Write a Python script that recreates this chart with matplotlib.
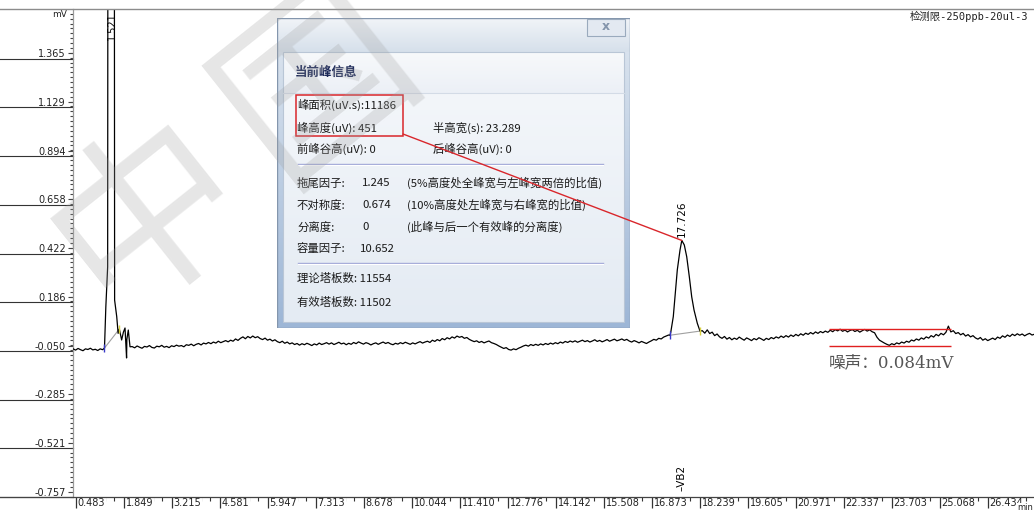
import numpy as np
import matplotlib
matplotlib.use('Agg')
import matplotlib.pyplot as plt
import matplotlib.ticker as ticker
import matplotlib.colors as mcolors
import matplotlib.transforms as mtransforms
from matplotlib.patches import Rectangle, ConnectionPatch
from matplotlib.lines import Line2D

plt.rcParams['font.family'] = ['DejaVu Sans', 'Noto Sans CJK SC']
CJK = ['Noto Sans CJK SC', 'DejaVu Sans']

W, H = 1034, 515

# axis ticks printed by the workstation
x_ticks = [0.483, 1.849, 3.215, 4.581, 5.947, 7.313, 8.678, 10.044, 11.410, 12.776,
           14.142, 15.508, 16.873, 18.239, 19.605, 20.971, 22.337, 23.703, 25.068, 26.434]
y_ticks = [-0.757, -0.521, -0.285, -0.050, 0.186, 0.422, 0.658, 0.894, 1.129, 1.365]

DT = 0.07  # min between stored baseline points

# baseline before the void peak, from 0.41 min
seg_a = [-0.066, -0.072, -0.064, -0.070, -0.075, -0.066, -0.069, -0.063, -0.071, -0.068,
         -0.074, -0.066, -0.070]

# void peak at 1.521 min (goes off scale)
peak1_rt = 1.521
p1_t = [1.302, 1.340, 1.392, 1.398, 1.521, 1.583, 1.590, 1.650, 1.690, 1.724, 1.790,
        1.840, 1.886, 1.930, 1.938, 1.979, 2.028]
p1_v = [-0.062, 0.137, 0.331, 1.950, 4.200, 1.950, 0.170, 0.090, 0.009, 0.030, -0.023,
        0.015, 0.035, -0.110, -0.020, 0.025, -0.056]

# baseline between the peaks, from 2.09 min
seg_b = [-0.055, -0.061, -0.052, -0.058, -0.063, -0.054, -0.057, -0.050, -0.059, -0.062,
         -0.053, -0.056, -0.049, -0.058, -0.054, -0.060, -0.051, -0.055, -0.048, -0.053,
         -0.050, -0.056, -0.046, -0.049, -0.043, -0.051, -0.044, -0.040, -0.047, -0.038,
         -0.042, -0.035, -0.041, -0.033, -0.038, -0.029, -0.036, -0.031, -0.026, -0.032,
         -0.024, -0.029, -0.018, -0.025, -0.015, -0.008, -0.017, -0.006, -0.013, -0.004,
         -0.012, -0.007, -0.016, -0.021, -0.014, -0.024, -0.019, -0.028, -0.022, -0.031,
         -0.036, -0.029, -0.039, -0.033, -0.042, -0.037, -0.045, -0.040, -0.048, -0.041,
         -0.046, -0.039, -0.044, -0.050, -0.042, -0.047, -0.038, -0.045, -0.041, -0.036,
         -0.043, -0.037, -0.045, -0.040, -0.034, -0.042, -0.038, -0.046, -0.039, -0.044,
         -0.035, -0.041, -0.032, -0.038, -0.043, -0.036, -0.040, -0.047, -0.041, -0.037,
         -0.044, -0.038, -0.033, -0.040, -0.035, -0.042, -0.046, -0.039, -0.043, -0.036,
         -0.041, -0.034, -0.039, -0.044, -0.037, -0.042, -0.036, -0.031, -0.038, -0.033,
         -0.029, -0.035, -0.024, -0.030, -0.021, -0.027, -0.016, -0.022, -0.012, -0.018,
         -0.008, -0.014, -0.004, -0.010, -0.006, -0.015, -0.011, -0.020, -0.026, -0.031,
         -0.027, -0.035, -0.030, -0.037, -0.032, -0.028, -0.036, -0.040, -0.045, -0.052,
         -0.058, -0.064, -0.060, -0.069, -0.072, -0.066, -0.070, -0.063, -0.058, -0.052,
         -0.048, -0.053, -0.045, -0.050, -0.044, -0.049, -0.042, -0.047, -0.040, -0.045,
         -0.038, -0.043, -0.036, -0.041, -0.033, -0.038, -0.030, -0.035, -0.028, -0.033,
         -0.027, -0.034, -0.029, -0.024, -0.031, -0.026, -0.033, -0.028, -0.022, -0.030,
         -0.025, -0.032, -0.027, -0.021, -0.029, -0.024, -0.019, -0.027, -0.023, -0.018,
         -0.025, -0.020, -0.028, -0.033, -0.026, -0.031, -0.037, -0.030, -0.035, -0.040,
         -0.033, -0.027, -0.020, -0.024, -0.015, -0.018, -0.009, -0.004, 0.001]

# VB2 peak
peak2_rt = 17.726
peak2_height = 451  # uV, from the peak report
p2_left_t = [17.390, 17.410, 17.484, 17.533, 17.598, 17.675]
p2_left_v = [0.000, 0.012, 0.090, 0.186, 0.316, 0.412]
p2_right_t = [17.797, 17.866, 17.940, 18.008, 18.074, 18.167, 18.244]
p2_right_v = [0.437, 0.380, 0.283, 0.186, 0.122, 0.058, 0.020]

# baseline after VB2, from 18.31 min
seg_c = [0.022, 0.010, 0.026, 0.008, 0.015, -0.002, 0.006, -0.008, -0.015, -0.006,
         -0.019, -0.011, -0.022, -0.014, -0.020, -0.009, -0.017, -0.024, -0.013, -0.019,
         -0.026, -0.016, -0.022, -0.012, -0.018, -0.025, -0.015, -0.021, -0.011, -0.017,
         -0.008, -0.014, -0.004, -0.011, -0.002, -0.009, 0.001, -0.006, 0.004, -0.003,
         0.007, 0.000, 0.010, 0.004, 0.013, 0.006, 0.016, 0.009, 0.018, 0.012,
         0.020, 0.014, 0.024, 0.017, 0.027, 0.021, 0.029, 0.019, 0.025, 0.016,
         0.023, 0.027, 0.018, 0.024, 0.015, 0.022, 0.028, 0.020, 0.026, 0.017,
         0.012, -0.010, -0.024, -0.031, -0.038, -0.044, -0.049, -0.041, -0.046, -0.037,
         -0.042, -0.033, -0.038, -0.029, -0.034, -0.023, -0.028, -0.018, -0.024, -0.013,
         -0.019, -0.008, -0.014, -0.002, -0.009, 0.004, -0.003, 0.009, 0.002, 0.014,
         0.044, 0.016, 0.022, 0.008, 0.013, 0.002, 0.009, -0.004, 0.003, -0.008,
         -0.002, -0.013, -0.019, -0.011, -0.024, -0.017, -0.026, -0.020, -0.014, -0.021,
         -0.009, -0.015, -0.003, -0.010, 0.001, -0.006, 0.005, -0.002, 0.007, 0.000,
         0.006, -0.003, 0.004, 0.009, 0.001, 0.005]

# noise measurement window
noise_t = (21.914, 25.385)
noise_top = 0.030
noise_mv = 0.084

# apex of VB2 sits peak2_height above its drawn baseline
p2_base_t = [p2_left_t[0], p2_right_t[-1]]
p2_base_v = [p2_left_v[0], p2_right_v[-1]]
p2_apex = np.interp(peak2_rt, p2_base_t, p2_base_v) + peak2_height / 1000.0

t = np.concatenate([0.41 + DT * np.arange(len(seg_a)), p1_t,
                    2.09 + DT * np.arange(len(seg_b)),
                    p2_left_t, [peak2_rt], p2_right_t,
                    18.31 + DT * np.arange(len(seg_c))])
v = np.concatenate([seg_a, p1_v, seg_b, p2_left_v, [p2_apex], p2_right_v, seg_c])

fig = plt.figure(figsize=(W / 100, H / 100), dpi=100)
fig.patch.set_facecolor('white')

ax = fig.add_axes([73 / W, (H - 497) / H, (W - 73) / W, (497 - 9) / H])
ax.set_xlim(0.406, 27.746)
ax.set_ylim(-0.783, 1.579)
for s in ['top', 'right', 'bottom']:
    ax.spines[s].set_visible(False)
ax.spines['left'].set_color('#9a9a9a')
ax.spines['left'].set_linewidth(0.9)
ax.tick_params(axis='x', which='both', bottom=False, labelbottom=False)
ax.set_yticks(y_ticks, labels=[f'{y:.3f}' for y in y_ticks])
ax.yaxis.set_minor_locator(ticker.AutoMinorLocator(10))
ax.tick_params(axis='y', which='major', length=3.8, width=0.8, color='#444444',
               labelsize=7, pad=1.5, labelcolor='#222222')
ax.tick_params(axis='y', which='minor', length=2.3, width=0.8, color='#444444')

# row rules under each y label
blend = mtransforms.blended_transform_factory(ax.transAxes, ax.transData)
for y in y_ticks:
    ax.plot([-73 / (W - 73), 0], [y - 0.0266] * 2, transform=blend, color='#333333',
            lw=0.8, clip_on=False)
ax.text(-0.006, 1.55, 'mV', transform=blend, ha='right', va='center', fontsize=6.5,
        color='#222222')

# chromatogram
ax.plot(t, v, color='black', lw=0.9, zorder=3)

# integration baselines and start/end marks
ax.plot([p1_t[0], p1_t[9]], [p1_v[0], p1_v[9]], color='#a0a0a0', lw=0.8, zorder=2)
ax.plot(p2_base_t, p2_base_v, color='#a0a0a0', lw=0.8, zorder=2)
ax.plot([p1_t[0], p2_base_t[0]], [p1_v[0], p2_base_v[0]], ls='none', marker='|', ms=6,
        mew=1.0, color='#3838c8', zorder=4)
ax.plot([p1_t[9], p2_base_t[1]], [p1_v[9], p2_base_v[1]], ls='none', marker='|', ms=6,
        mew=1.0, color='#d8d040', zorder=4)

ax.annotate(f'{peak1_rt:.3f}', xy=(peak1_rt, 1.579), xytext=(0, -2), textcoords='offset points',
            rotation=90, ha='center', va='top', fontsize=7, annotation_clip=False)
ax.annotate(f'{peak2_rt:.3f}', xy=(peak2_rt, p2_apex), xytext=(0, 2.5), textcoords='offset points',
            rotation=90, ha='center', va='bottom', fontsize=7.5)
ax.annotate('\u2013VB2', xy=(peak2_rt, -0.783), xytext=(0, 4.3), textcoords='offset points',
            rotation=90, ha='center', va='bottom', fontsize=7.5)

# noise band
ax.hlines([noise_top, noise_top - noise_mv], *noise_t, colors='#e02020', lw=1, zorder=4)
ax.text(noise_t[0], -0.135, f'噪声：{noise_mv:.3f}mV', ha='left', va='center', fontsize=12,
        color='#555555', family=['DejaVu Serif', 'Noto Sans CJK SC'])

# time axis row
axb = fig.add_axes([73 / W, 0, (W - 73) / W, 18 / H])
axb.set_xlim(ax.get_xlim())
axb.set_ylim(0, 1)
axb.axis('off')
step = x_ticks[1] - x_ticks[0]
minor = [x + j * step / 5 for x in x_ticks for j in range(1, 5)]
axb.vlines(minor, 1 - 4 / 18, 1, color='#333333', lw=0.8, zorder=1)
axb.vlines(x_ticks, 1 - 11 / 18, 1, color='#333333', lw=0.9, zorder=4)
for x in x_ticks:
    axb.annotate(f'{x:.3f}', xy=(x, 1 - 6.5 / 18), xytext=(1.3, 0), textcoords='offset points',
                 ha='left', va='center', fontsize=7, color='#222222', zorder=3,
                 bbox=dict(fc='white', ec='none', pad=0.4))
fig.text(1033 / W, 1 - 508 / H, 'min', ha='right', va='center', fontsize=6, color='#222222',
         bbox=dict(fc='white', ec='none', pad=0.3), zorder=6)

fig.add_artist(Line2D([0, 1], [1 - 9 / H] * 2, transform=fig.transFigure, color='#8c8c8c', lw=1))
fig.add_artist(Line2D([0, 1], [1 - 497 / H] * 2, transform=fig.transFigure, color='#444444', lw=0.9))

fig.text(1028 / W, 1 - 16 / H, '检测限-250ppb-20ul-3', ha='right', va='center', fontsize=7.5,
         color='#222222', family=['DejaVu Sans Mono', 'Noto Sans CJK SC'])

# peak report window
dlg = fig.add_axes([277 / W, 1 - 328 / H, 353 / W, 310 / H])
dlg.set_zorder(5)
dlg.axis('off')


def vgrad(x0, x1, y0, y1, c0, c1, z=1):
    f = np.linspace(0, 1, 64)[:, None]
    img = np.array(mcolors.to_rgb(c0)) * (1 - f) + np.array(mcolors.to_rgb(c1)) * f
    dlg.imshow(img[:, None, :], extent=(x0, x1, y1, y0), aspect='auto',
               interpolation='bilinear', zorder=z)


vgrad(277, 630, 18, 328, '#dfe7f0', '#9db6d6', 1)
vgrad(277, 630, 18, 52, '#f1f4f8', '#d6e0eb', 2)
vgrad(283, 624, 52, 93, '#f7f9fb', '#ecf0f6', 2)
vgrad(283, 624, 93, 322, '#f3f6fa', '#e4ebf3', 2)
dlg.add_patch(Rectangle((277, 18), 353, 310, fill=False, ec='#8496ad', lw=1, zorder=3))
dlg.add_patch(Rectangle((283, 52), 341, 270, fill=False, ec='#b9c6d6', lw=0.8, zorder=3))
dlg.plot([283, 624], [93, 93], color='#d3dbe6', lw=0.8, zorder=3)

dlg.add_patch(Rectangle((587, 19), 38, 17, fc='#e3e9f1', ec='#9aaabd', lw=0.8, zorder=3))
dlg.text(606, 27, 'x', ha='center', va='center', fontsize=9, fontweight='bold',
         color='#8394ab', zorder=4)

dlg.text(295, 72, '当前峰信息', ha='left', va='center', fontsize=9, fontweight='bold',
         color='#1b2858', family=CJK, zorder=4)

rows = [
    (297, 105, '峰面积(uV.s):11186'),
    (297, 128, '峰高度(uV): 451'), (433, 128, '半高宽(s): 23.289'),
    (297, 149, '前峰谷高(uV): 0'), (433, 149, '后峰谷高(uV): 0'),
    (297, 183, '拖尾因子:'), (362, 183, '1.245'), (407, 183, '(5%高度处全峰宽与左峰宽两倍的比值)'),
    (297, 205, '不对称度:'), (362, 205, '0.674'), (407, 205, '(10%高度处左峰宽与右峰宽的比值)'),
    (297, 227, '分离度:'), (362, 227, '0'), (407, 227, '(此峰与后一个有效峰的分离度)'),
    (297, 249, '容量因子:'), (360, 249, '10.652'),
    (297, 278, '理论塔板数: 11554'),
    (297, 302, '有效塔板数: 11502'),
]
for x, y, s in rows:
    dlg.text(x, y, s, ha='left', va='center', fontsize=8.2, color='#1a1a1a', family=CJK, zorder=4)

for y in (164, 263):
    dlg.plot([298, 603], [y, y], color='#a4aad8', lw=1, zorder=3)
    dlg.plot([298, 603], [y + 1, y + 1], color='white', lw=0.8, zorder=3)

dlg.add_patch(Rectangle((296, 95), 107, 41, fill=False, ec='#d9262b', lw=1.1, zorder=5))
dlg.set_xlim(277, 630)
dlg.set_ylim(328, 18)

link = ConnectionPatch(xyA=(403, 134), coordsA=dlg.transData, xyB=(peak2_rt, p2_apex),
                       coordsB=ax.transData, color='#d9262b', lw=1)
link.set_zorder(7)
fig.add_artist(link)

# site watermark
for ch, (cx, cy) in zip('中国', [(150, 215), (318, 82)]):
    fig.text(cx / W, 1 - cy / H, ch, ha='center', va='center', rotation=38.5, fontsize=135,
             color='#a0a0a0', alpha=0.26, family=CJK, zorder=10)

fig.savefig('out.png', dpi=100)
